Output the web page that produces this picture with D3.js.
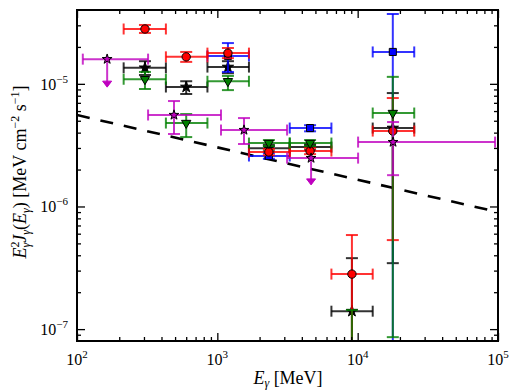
<!DOCTYPE html>
<html>
<head>
<meta charset="utf-8">
<script src="https://cdn.jsdelivr.net/npm/d3@7"></script>
<style>
  body { margin: 0; background: #fff; }
  text { font-family: "Liberation Serif", "DejaVu Serif", serif; fill: #000; }
</style>
</head>
<body>
<svg id="chart" width="510" height="392"></svg>
<script>
// common energy bins (MeV)
const binE  = [305, 600, 1190, 2330, 4580, 9100, 17800];
const binLo = [215, 430, 850, 1680, 3280, 6500, 12800];
const binHi = [430, 850, 1680, 3280, 6500, 12800, 25300];

// red circles
const redVal = [2.80e-5, 1.66e-5, 1.78e-5, 2.78e-6, 2.83e-6, 2.81e-7, 4.12e-6];
const redHi  = [3.02e-5, 1.82e-5, 1.96e-5, 2.94e-6, 2.99e-6, 5.85e-7, 7.66e-6];
const redLo  = [2.60e-5, 1.51e-5, 1.62e-5, 2.62e-6, 2.67e-6, 1e-9, 5.32e-7];

// black stars
const blkVal = [1.35e-5, 9.42e-6, 1.37e-5, 2.99e-6, 3.05e-6, 1.40e-7, 4.36e-6];
const blkHi  = [1.53e-5, 1.05e-5, 1.53e-5, 3.17e-6, 3.23e-6, 3.79e-7, 8.41e-6];
const blkLo  = [1.18e-5, 8.26e-6, 1.22e-5, 2.82e-6, 2.88e-6, 1e-9, 3.45e-7];

// green triangles
const grnVal = [1.09e-5, 4.79e-6, 1.05e-5, 3.29e-6, 3.29e-6, 5e-8, 5.78e-6];
const grnHi  = [1.25e-5, 5.67e-6, 1.16e-5, 3.48e-6, 3.48e-6, 1.43e-7, 1.14e-5];
const grnLo  = [9.08e-6, 3.68e-6, 8.89e-6, 3.11e-6, 3.11e-6, 1e-9, 8.6e-8];

// blue squares
const bluVal = [null, null, 1.69e-5, 2.58e-6, 4.36e-6, null, 1.82e-5];
const bluHi  = [null, null, 2.15e-5, 2.72e-6, 4.60e-6, null, 3.71e-5];
const bluLo  = [null, null, 1.25e-5, 2.45e-6, 4.10e-6, null, 1e-9];

// magenta stars (own bins, two upper limits)
const magE   = [164, 491, 1549, 4656, 17870];
const magELo = [110, 321, 1062, 3141, 10070];
const magEHi = [321, 1062, 3141, 10070, 95300];
const magVal = [1.59e-5, 5.57e-6, 4.20e-6, 2.48e-6, 3.35e-6];
const magHi  = [null, 7.24e-6, 5.26e-6, null, 4.88e-6];
const magLo  = [9.4e-6, 3.90e-6, 3.23e-6, 1.50e-6, 1.80e-6];
const magLim = [true, false, false, true, false];

// dashed model line
const modelE = [1e2, 1e5];
const modelF = [5.57e-6, 9.0e-7];

const xMajor = [1e2, 1e3, 1e4, 1e5];
const yMajor = [1e-7, 1e-6, 1e-5];

const L = 77, R = 498, T = 10, B = 341;
const svg = d3.select("#chart");

const x = d3.scaleLog().domain([1e2, 1e5]).range([L, R]);
const y = d3.scaleLog().domain([8e-8, 4e-5]).range([B, T]);

function minors(lo, hi) {
  const out = [];
  for (let e = Math.floor(Math.log10(lo)); e <= Math.ceil(Math.log10(hi)); e++) {
    for (let m = 2; m <= 9; m++) {
      const v = m * Math.pow(10, e);
      if (v > lo * 1.0001 && v < hi * 0.9999) out.push(v);
    }
  }
  return out;
}

svg.append("defs").append("clipPath").attr("id", "clip")
  .append("rect").attr("x", L).attr("y", T).attr("width", R - L).attr("height", B - T);

const plot = svg.append("g").attr("clip-path", "url(#clip)");

// model line
plot.append("path")
  .datum(modelE.map((e, i) => [e, modelF[i]]))
  .attr("d", d3.line().x(d => x(d[0])).y(d => y(d[1])))
  .attr("fill", "none")
  .attr("stroke", "#000")
  .attr("stroke-width", 2.6)
  .attr("stroke-dasharray", "13,11");

function drawErrors(color, E, ELo, EHi, val, lo, hi, lim, tip) {
  const g = plot.append("g")
    .attr("stroke", color).attr("stroke-width", 2).attr("stroke-opacity", 0.8).attr("fill", "none");
  val.forEach((v, i) => {
    if (v == null) return;
    const cx = x(E[i]), cy = y(v);
    // horizontal bar + caps
    g.append("line").attr("x1", x(ELo[i])).attr("x2", x(EHi[i])).attr("y1", cy).attr("y2", cy);
    g.append("line").attr("x1", x(ELo[i])).attr("x2", x(ELo[i])).attr("y1", cy - 5.5).attr("y2", cy + 5.5);
    g.append("line").attr("x1", x(EHi[i])).attr("x2", x(EHi[i])).attr("y1", cy - 5.5).attr("y2", cy + 5.5);
    if (lim && lim[i]) {
      const ty = y(tip[i]);
      g.append("line").attr("x1", cx).attr("x2", cx).attr("y1", cy).attr("y2", ty - 4);
      plot.append("path")
        .attr("d", `M${cx - 4.5},${ty - 6}L${cx + 4.5},${ty - 6}L${cx},${ty}Z`)
        .attr("fill", color).attr("stroke", color).attr("stroke-width", 1);
    } else {
      const y1 = y(hi[i]), y2 = y(lo[i]);
      g.append("line").attr("x1", cx).attr("x2", cx).attr("y1", y1).attr("y2", y2);
      g.append("line").attr("x1", cx - 6).attr("x2", cx + 6).attr("y1", y1).attr("y2", y1);
      g.append("line").attr("x1", cx - 6).attr("x2", cx + 6).attr("y1", y2).attr("y2", y2);
    }
  });
}

function drawMarkers(E, val, type, size, fill, rot) {
  plot.append("g").selectAll("path")
    .data(val.map((v, i) => ({ e: E[i], v })).filter(d => d.v != null))
    .join("path")
    .attr("d", d3.symbol().type(type).size(size))
    .attr("transform", d => `translate(${x(d.e)},${y(d.v)}) rotate(${rot || 0})`)
    .attr("fill", fill)
    .attr("stroke", "#000")
    .attr("stroke-width", 1);
}

drawErrors("#000000", binE, binLo, binHi, blkVal, blkLo, blkHi);
drawMarkers(binE, blkVal, d3.symbolStar, 40, "#000");
drawErrors("#0000ff", binE, binLo, binHi, bluVal, bluLo, bluHi);
drawMarkers(binE, bluVal, d3.symbolSquare, 50, "#0000ff");
drawErrors("#ff0000", binE, binLo, binHi, redVal, redLo, redHi);
drawMarkers(binE, redVal, d3.symbolCircle, 55, "#ff0000");
drawErrors("#008000", binE, binLo, binHi, grnVal, grnLo, grnHi);
drawMarkers(binE, grnVal, d3.symbolTriangle, 38, "#008000", 180);
drawErrors("#bf00bf", magE, magELo, magEHi, magVal, magLo, magHi, magLim, magLo);
drawMarkers(magE, magVal, d3.symbolStar, 30, "#bf00bf");

// axes: inward ticks on all sides
function tickAxis(axis, tr, vals, size) {
  const g = svg.append("g").attr("transform", tr)
    .call(axis.tickValues(vals).tickSize(-size).tickFormat(""));
  g.select(".domain").remove();
  g.selectAll(".tick line").attr("stroke", "#000").attr("stroke-width", 1.3);
}
const xMinor = minors(1e2, 1e5), yMinor = minors(8e-8, 4e-5);
tickAxis(d3.axisBottom(x), `translate(0,${B})`, xMajor, 8);
tickAxis(d3.axisBottom(x), `translate(0,${B})`, xMinor, 4);
tickAxis(d3.axisTop(x), `translate(0,${T})`, xMajor, 8);
tickAxis(d3.axisTop(x), `translate(0,${T})`, xMinor, 4);
tickAxis(d3.axisLeft(y), `translate(${L},0)`, yMajor, 8);
tickAxis(d3.axisLeft(y), `translate(${L},0)`, yMinor, 4);
tickAxis(d3.axisRight(y), `translate(${R},0)`, yMajor, 8);
tickAxis(d3.axisRight(y), `translate(${R},0)`, yMinor, 4);

svg.append("rect").attr("x", L).attr("y", T).attr("width", R - L).attr("height", B - T)
  .attr("fill", "none").attr("stroke", "#000").attr("stroke-width", 2);

// tick labels
const expo = v => Math.round(Math.log10(v));
xMajor.forEach(v => {
  const t = svg.append("text").attr("x", x(v)).attr("y", 365)
    .attr("text-anchor", "middle").attr("font-size", 16);
  t.append("tspan").text("10");
  t.append("tspan").attr("dy", -7).attr("font-size", 11).text(String(expo(v)));
});
yMajor.forEach(v => {
  const t = svg.append("text").attr("x", 68).attr("y", y(v) + 6)
    .attr("text-anchor", "end").attr("font-size", 16);
  t.append("tspan").text("10");
  t.append("tspan").attr("dy", -7).attr("font-size", 11).text("\u2212" + Math.abs(expo(v)));
});

// x label
const xl = svg.append("text").attr("x", 288).attr("y", 384)
  .attr("text-anchor", "middle").attr("font-size", 18);
xl.append("tspan").attr("font-style", "italic").text("E");
xl.append("tspan").attr("font-size", 12).attr("font-style", "italic").attr("dy", 3).text("\u03b3");
xl.append("tspan").attr("dy", -3).text(" [MeV]");

// y label
const yl = svg.append("text")
  .attr("transform", "translate(26,172) rotate(-90)")
  .attr("text-anchor", "middle").attr("font-size", 18);
yl.append("tspan").attr("font-style", "italic").text("E");
yl.append("tspan").attr("font-size", 12).attr("dy", -7).text("2");
yl.append("tspan").attr("font-size", 12).attr("font-style", "italic").attr("dx", -6).attr("dy", 11).text("\u03b3");
yl.append("tspan").attr("font-style", "italic").attr("dy", -4).text("J");
yl.append("tspan").attr("font-size", 12).attr("font-style", "italic").attr("dy", 4).text("\u03b3");
yl.append("tspan").attr("dy", -4).text("(");
yl.append("tspan").attr("font-style", "italic").text("E");
yl.append("tspan").attr("font-size", 12).attr("font-style", "italic").attr("dy", 4).text("\u03b3");
yl.append("tspan").attr("dy", -4).text(") [MeV cm");
yl.append("tspan").attr("font-size", 12).attr("dy", -7).text("\u22122");
yl.append("tspan").attr("dy", 7).text(" s");
yl.append("tspan").attr("font-size", 12).attr("dy", -7).text("\u22121");
yl.append("tspan").attr("dy", 7).text("]");
</script>
</body>
</html>
